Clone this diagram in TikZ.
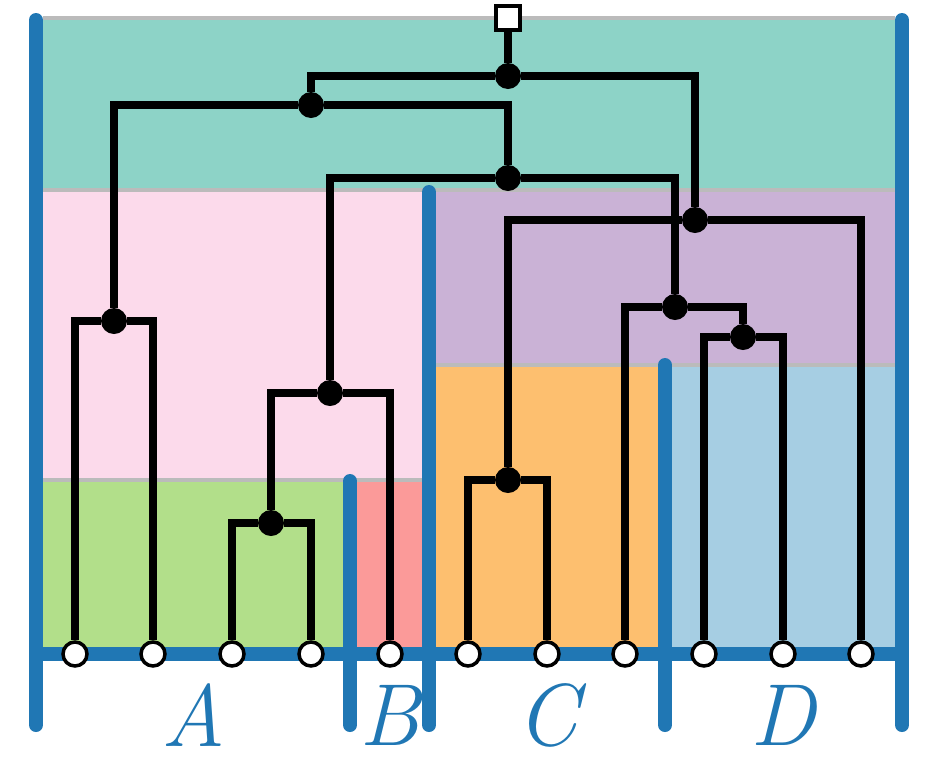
\documentclass[tikz,border=0pt]{standalone}
\usepackage{fontspec}
\definecolor{tealc}{HTML}{8DD3C7}
\definecolor{pinkc}{HTML}{FCDAEB}
\definecolor{greenc}{HTML}{B2DF8A}
\definecolor{redc}{HTML}{FB9A99}
\definecolor{purplec}{HTML}{CAB2D6}
\definecolor{orangec}{HTML}{FDBF6F}
\definecolor{lbluec}{HTML}{A6CEE3}
\definecolor{barc}{HTML}{2077B4}
\definecolor{grayc}{HTML}{BBBBBB}
\tikzset{
  bar/.style={line width=14pt, draw=barc, line cap=round},
  sep/.style={line width=4pt, draw=grayc},
  edge/.style={line width=8pt, draw=black},
  leaf/.style={circle, draw=black, fill=white, line width=3.5pt, minimum size=24pt, inner sep=0pt},
  inner/.style={circle, fill=black, minimum size=26pt, inner sep=0pt},
  rootbox/.style={rectangle, draw=black, fill=white, line width=3.5pt, minimum size=24pt, inner sep=0pt},
  lab/.style={text=barc, font=\fontsize{88}{88}\selectfont\itshape, inner sep=0pt}
}
\begin{document}
\begin{tikzpicture}[x=1pt,y=-1pt]
\useasboundingbox (0,0) rectangle (935,764);
% regions
\fill[tealc] (43,18) rectangle (895,190);
\fill[pinkc] (43,190) rectangle (422,480);
\fill[greenc] (43,480) rectangle (343,654);
\fill[redc] (357,480) rectangle (422,654);
\fill[purplec] (436,190) rectangle (895,365);
\fill[orangec] (436,365) rectangle (658,654);
\fill[lbluec] (672,365) rectangle (895,654);
\draw[sep] (43,18) -- (895,18);
\draw[sep] (43,190) -- (895,190);
\draw[sep] (43,480) -- (422,480);
\draw[sep] (436,365) -- (895,365);
% blue bars
\draw[bar] (36,20) -- (36,725);
\draw[bar] (902,20) -- (902,725);
\draw[bar] (429,192) -- (429,725);
\draw[bar] (350,481) -- (350,725);
\draw[bar] (665,365) -- (665,725);
\draw[bar, line cap=butt] (29,654) -- (909,654);
% leaves
\node[leaf] (l1) at (75,654) {};
\node[leaf] (l2) at (153,654) {};
\node[leaf] (l3) at (232,654) {};
\node[leaf] (l4) at (311,654) {};
\node[leaf] (l5) at (390,654) {};
\node[leaf] (l6) at (468,654) {};
\node[leaf] (l7) at (547,654) {};
\node[leaf] (l8) at (625,654) {};
\node[leaf] (l9) at (704,654) {};
\node[leaf] (l10) at (783,654) {};
\node[leaf] (l11) at (861,654) {};
% internal nodes
\node[inner] (n1) at (114,321) {};
\node[inner] (n2) at (271,523) {};
\node[inner] (n3) at (330,393) {};
\node[inner] (n4) at (508,480) {};
\node[inner] (n5) at (743,337) {};
\node[inner] (n6) at (675,307) {};
\node[inner] (n7) at (695,220) {};
\node[inner] (n8) at (508,178) {};
\node[inner] (n9) at (311,105) {};
\node[inner] (n10) at (508,76) {};
\node[rootbox] (root) at (508,18) {};
% edges
\draw[edge] (n1) -| (l1);
\draw[edge] (n1) -| (l2);
\draw[edge] (n2) -| (l3);
\draw[edge] (n2) -| (l4);
\draw[edge] (n3) -| (n2);
\draw[edge] (n3) -| (l5);
\draw[edge] (n4) -| (l6);
\draw[edge] (n4) -| (l7);
\draw[edge] (n5) -| (l9);
\draw[edge] (n5) -| (l10);
\draw[edge] (n6) -| (l8);
\draw[edge] (n6) -| (n5);
\draw[edge] (n7) -| (n4);
\draw[edge] (n7) -| (l11);
\draw[edge] (n8) -| (n3);
\draw[edge] (n8) -| (n6);
\draw[edge] (n9) -| (n1);
\draw[edge] (n9) -| (n8);
\draw[edge] (n10) -| (n9);
\draw[edge] (n10) -| (n7);
\draw[edge] (n10) -- (root);
% labels
\node[lab] (lA) at (193,715) {A};
\node[lab] (lB) at (390,715) {B};
\node[lab] (lC) at (547,715) {C};
\node[lab] (lD) at (783,715) {D};
\end{tikzpicture}
\end{document}
